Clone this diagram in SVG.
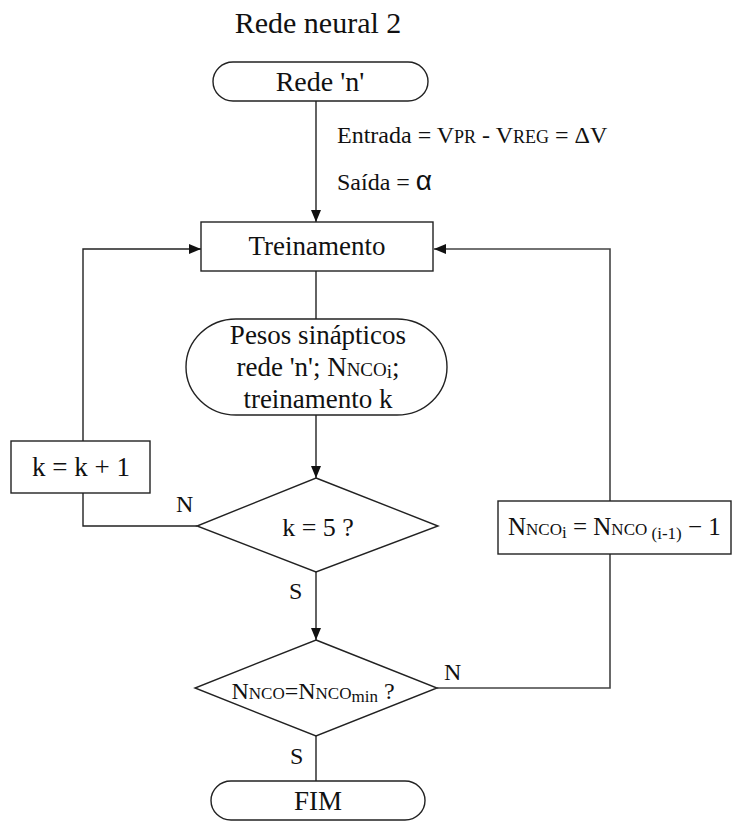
<svg xmlns="http://www.w3.org/2000/svg" width="733" height="821" viewBox="0 0 733 821">
<defs>
<marker id="ah" viewBox="0 0 12 10" refX="12" refY="5" markerWidth="12" markerHeight="10" markerUnits="userSpaceOnUse" orient="auto">
<path d="M0,0 L12,5 L0,10 z" fill="#111"/>
</marker>
<style>
.t{font-family:"Liberation Serif","Times New Roman",serif;fill:#111;}
.s{fill:#fff;stroke:#222;stroke-width:1.4;}
.c{fill:none;stroke:#222;stroke-width:1.4;}
.g{fill:none;stroke:#444;stroke-width:1.6;}
</style>
</defs>
<rect width="733" height="821" fill="#fff"/>
<text class="t" x="318" y="33" font-size="30" text-anchor="middle">Rede neural 2</text>

<g id="connectors">
<line class="c" x1="316" y1="101" x2="316" y2="222" marker-end="url(#ah)"/>
<line class="c" x1="316" y1="271" x2="316" y2="319"/>
<line class="c" x1="316" y1="415" x2="316" y2="478" marker-end="url(#ah)"/>
<line class="c" x1="316" y1="572" x2="316" y2="640" marker-end="url(#ah)"/>
<line class="c" x1="316" y1="736" x2="316" y2="781"/>
<polyline class="c" points="197,526 83,526 83,493"/>
<polyline class="c" points="83,441 83,249 201,249" marker-end="url(#ah)"/>
<polyline class="g" points="437,688 610,688 610,554"/>
<polyline class="g" points="610,501 610,249 434,249" marker-end="url(#ah)"/>
</g>

<g id="rede">
<rect class="s" x="213" y="62" width="215" height="39" rx="20" ry="19.5"/>
<text class="t" x="320" y="91" font-size="28" text-anchor="middle">Rede 'n'</text>
</g>

<g id="io-label">
<text class="t" x="337" y="143" font-size="24">Entrada = V<tspan font-size="18">PR</tspan> - V<tspan font-size="18">REG</tspan> = ΔV</text>
<text class="t" x="337" y="190" font-size="24">Saída = <tspan font-family="Liberation Sans, Arial, sans-serif" font-size="28">α</tspan></text>
</g>

<g id="treinamento">
<rect class="s" x="201" y="222" width="232" height="49"/>
<text class="t" x="317" y="255" font-size="27" text-anchor="middle">Treinamento</text>
</g>

<g id="pesos">
<rect class="s" x="186" y="319" width="261" height="96" rx="50" ry="48"/>
<text class="t" x="318" y="344" font-size="27" text-anchor="middle">Pesos sinápticos</text>
<text class="t" x="318" y="376" font-size="27" text-anchor="middle">rede 'n'; N<tspan font-size="19">NCO</tspan><tspan font-size="19" dy="2">i</tspan><tspan dy="-2">;</tspan></text>
<text class="t" x="318" y="408" font-size="27" text-anchor="middle">treinamento k</text>
</g>

<g id="k-inc">
<rect class="s" x="11" y="441" width="139" height="52"/>
<text class="t" x="81" y="476" font-size="27" text-anchor="middle">k = k + 1</text>
</g>

<g id="k5">
<polygon class="s" points="316,478 438,526 316,572 197,526"/>
<text class="t" x="318" y="536" font-size="26" text-anchor="middle">k = 5 ?</text>
<text class="t" x="176" y="512" font-size="24">N</text>
<text class="t" x="289" y="599" font-size="24">S</text>
</g>

<g id="nco-dec">
<rect class="s" x="498" y="501" width="233" height="53"/>
<text class="t" x="508" y="535" font-size="25">N<tspan font-size="17">NCO</tspan><tspan font-size="17" dy="3">i</tspan><tspan dy="-3"> = N</tspan><tspan font-size="17">NCO</tspan><tspan font-size="17" dy="4"> (i-1)</tspan><tspan dy="-4"> − 1</tspan></text>
</g>

<g id="nco-min">
<polygon class="s" points="316,640 437,688 316,736 195,688"/>
<text class="t" x="313" y="699" font-size="24" text-anchor="middle">N<tspan font-size="17">NCO</tspan>=N<tspan font-size="17">NCO</tspan><tspan font-size="17" dy="3">min</tspan><tspan dy="-3"> ?</tspan></text>
<text class="t" x="444" y="680" font-size="24">N</text>
<text class="t" x="290" y="764" font-size="24">S</text>
</g>

<g id="fim">
<rect class="s" x="211" y="781" width="214" height="39" rx="20" ry="19.5"/>
<text class="t" x="318" y="810" font-size="27" text-anchor="middle">FIM</text>
</g>
</svg>
